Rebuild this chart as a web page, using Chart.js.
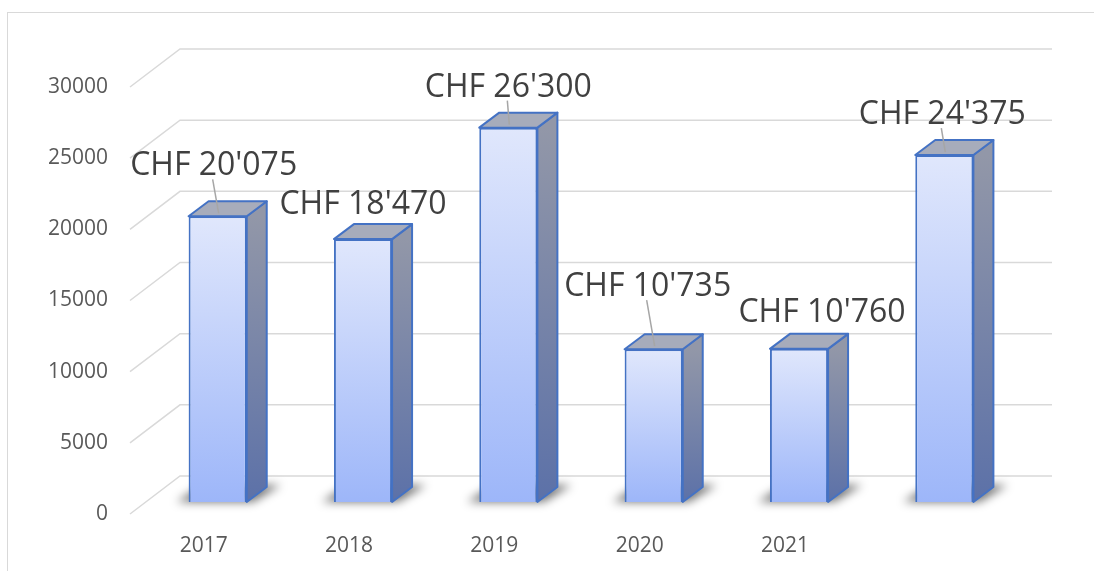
<!DOCTYPE html>
<html>
<head>
<meta charset="utf-8">
<script src="https://cdn.jsdelivr.net/npm/chart.js@4.4.1/dist/chart.umd.min.js"></script>
<style>
  html, body { margin: 0; padding: 0; background: #fff; overflow: hidden; }
  #wrap { position: relative; width: 1094px; height: 571px; }
  #frame { position: absolute; left: 7px; top: 12px; width: 1100px; height: 600px; border: 1px solid #d9d9d9; box-sizing: border-box; }
  #graphChart { position: absolute; left: 0; top: 0; }
</style>
</head>
<body>
<div id="wrap">
  <div id="frame"></div>
  <canvas id="graphChart" width="1094" height="571"></canvas>
</div>
<script>
// chart data
const years = ['2017', '2018', '2019', '2020', '2021', '']
const amounts = [20075, 18470, 26300, 10735, 10760, 24375]
const yTicks = [0, 5000, 10000, 15000, 20000, 25000, 30000]

// manual label placement (like the hand-moved labels in the original)
const labelDx = [-4, 0, 0, -6, 23, -2]
const labelDy = [-41, -25, -31, -53, -27, -31]
const showLeader = [true, false, true, true, false, true]

const depthX = 20, depthY = -15   // bar depth
const wallX = 35, wallY = -26     // back wall offset from bar fronts
const floorX = -15, floorY = 12   // front edge of floor

const fmt = v => 'CHF ' + String(v).replace(/\B(?=(\d{3})+(?!\d))/g, "'")

const box3d = {
    id: 'box3d',
    beforeDatasetsDraw(chart) {
        const c = chart.ctx
        const area = chart.chartArea
        const y = chart.scales.y
        // back wall grid + floor diagonals
        c.save()
        c.strokeStyle = '#d9d9d9'
        c.lineWidth = 1.5
        yTicks.forEach(v => {
            const py = y.getPixelForValue(v)
            c.beginPath()
            c.moveTo(area.left + floorX, py + floorY)
            c.lineTo(area.left + wallX, py + wallY)
            c.lineTo(area.right + wallX, py + wallY)
            c.stroke()
        })
        // soft floor shadows
        const bars = chart.getDatasetMeta(0).data
        c.filter = 'blur(5px)'
        c.fillStyle = 'rgba(0,0,0,0.55)'
        bars.forEach(b => {
            const x0 = b.x - b.width / 2, x1 = b.x + b.width / 2, yb = b.base
            c.beginPath()
            c.moveTo(x0 - 12, yb)
            c.lineTo(x1 + 6, yb)
            c.lineTo(x1 + depthX + 14, yb + depthY - 2)
            c.lineTo(x0 + depthX - 6, yb + depthY - 2)
            c.closePath()
            c.fill()
        })
        c.restore()
    },
    afterDatasetsDraw(chart) {
        const c = chart.ctx
        const bars = chart.getDatasetMeta(0).data
        c.save()
        c.lineWidth = 2
        c.strokeStyle = '#4472c4'
        c.lineJoin = 'round'
        bars.forEach((b, i) => {
            const x0 = b.x - b.width / 2, x1 = b.x + b.width / 2
            const yt = b.y, yb = b.base
            // side face
            const g = c.createLinearGradient(0, yt, 0, yb)
            g.addColorStop(0, '#9297a8')
            g.addColorStop(1, '#5c71a8')
            c.fillStyle = g
            c.beginPath()
            c.moveTo(x1, yt)
            c.lineTo(x1 + depthX, yt + depthY)
            c.lineTo(x1 + depthX, yb + depthY)
            c.lineTo(x1, yb)
            c.closePath()
            c.fill()
            c.stroke()
            // top face
            c.fillStyle = '#a7acbb'
            c.beginPath()
            c.moveTo(x0, yt)
            c.lineTo(x0 + depthX, yt + depthY)
            c.lineTo(x1 + depthX, yt + depthY)
            c.lineTo(x1, yt)
            c.closePath()
            c.fill()
            c.stroke()
        })
        // data labels
        c.font = '32px "Open Sans"'
        c.textAlign = 'center'
        c.textBaseline = 'alphabetic'
        bars.forEach((b, i) => {
            const lx = b.x + labelDx[i]
            const ly = b.y + labelDy[i]
            if (showLeader[i]) {
                c.strokeStyle = '#a6a6a6'
                c.lineWidth = 1.5
                c.beginPath()
                c.moveTo(lx - 1, ly + 4)
                c.lineTo(b.x + 1, b.y - 3)
                c.stroke()
            }
            c.fillStyle = '#404040'
            c.fillText(fmt(amounts[i]), lx, ly)
        })
        c.restore()
    }
}

const ctx = document.getElementById('graphChart')

const graph = new Chart(ctx, {
    type: 'bar',
    data: {
        labels: years,
        datasets: [{
            data: amounts,
            backgroundColor(context) {
                const chart = context.chart
                const y = chart.scales.y
                if (!y || typeof context.raw !== 'number') return '#c5d3fb'
                const top = y.getPixelForValue(context.raw)
                const bottom = y.getPixelForValue(0)
                if (!isFinite(top) || !isFinite(bottom)) return '#c5d3fb'
                const g = chart.ctx.createLinearGradient(0, top, 0, bottom)
                g.addColorStop(0, '#e0e7fc')
                g.addColorStop(1, '#9db6f9')
                return g
            },
            borderColor: '#4472c4',
            borderWidth: 2,
            categoryPercentage: 1,
            barPercentage: 0.4
        }]
    },
    options: {
        responsive: false,
        animation: false,
        layout: { padding: { top: 75, right: 77, bottom: 0, left: 0 } },
        plugins: { legend: { display: false }, tooltip: { enabled: false } },
        scales: {
            x: {
                grid: { display: false, drawTicks: false },
                border: { display: false },
                ticks: {
                    color: '#595959',
                    font: { family: 'Open Sans', size: 21 },
                    padding: 31,
                    labelOffset: -14,
                    maxRotation: 0
                },
                afterFit(scale) { scale.height = 69 }
            },
            y: {
                min: 0,
                max: 30000,
                grid: { display: false, drawTicks: false },
                border: { display: false },
                ticks: {
                    stepSize: 5000,
                    color: '#595959',
                    font: { family: 'Open Sans', size: 21 },
                    padding: 37,
                    labelOffset: 12,
                    callback: v => String(v)
                },
                afterFit(scale) { scale.width = 145 }
            }
        }
    },
    plugins: [box3d]
})
</script>
</body>
</html>
